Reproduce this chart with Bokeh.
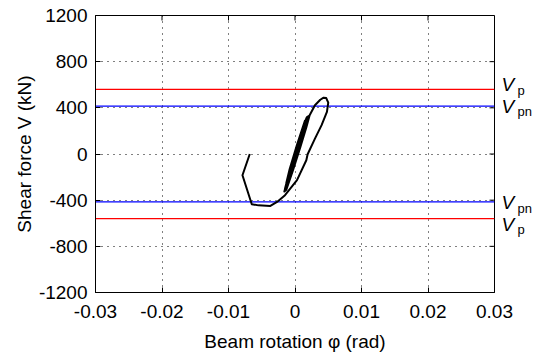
from bokeh.plotting import figure
from bokeh.models import FixedTicker, LinearAxis, Range1d
from bokeh.embed import file_html
from bokeh.resources import INLINE

# ---- data ----
rotation = [0.0, 0.0009, 0.0018,
            0.0015, 0.0003, -0.0008, -0.0013,
            -0.0010, 0.0001, 0.0011, 0.0020,
            0.0017, 0.0005, -0.0006, -0.0015,
            -0.0012, -0.0001, 0.0010, 0.0021,
            0.0018, 0.0006, -0.0005, -0.0016,
            -0.0013, -0.0003, 0.0008, 0.0017, 0.0022, 0.0030, 0.0038, 0.0043, 0.0047,
            0.0050, 0.0048, 0.0040, 0.0030, 0.0019, 0.0017, 0.0003, -0.0015, -0.0027,
            -0.0037, -0.0055, -0.0065, -0.0079, -0.0068]
shear = [0, 150, 300,
         290, 80, -130, -250,
         -240, -30, 160, 320,
         310, 100, -100, -300,
         -290, -90, 110, 330,
         320, 110, -90, -325,
         -310, -140, 60, 230, 335, 422, 470, 488, 485,
         445, 364, 250, 133, -2, -54, -227, -357, -415,
         -450, -445, -435, -184, 0]

Vp = 560
Vpn = 415

x_ticks = [-0.03, -0.02, -0.01, 0, 0.01, 0.02, 0.03]
x_tick_labels = ["-0.03", "-0.02", "-0.01", "0", "0.01", "0.02", "0.03"]
y_ticks = [-1200, -800, -400, 0, 400, 800, 1200]

FONT = "Liberation Sans"
XMIN, XMAX = -0.03, 0.03
YMIN, YMAX = -1200, 1200

p = figure(width=534, height=356, output_backend="svg", toolbar_location=None,
           x_range=Range1d(XMIN, XMAX), y_range=Range1d(YMIN, YMAX),
           min_border_left=95, min_border_right=39, min_border_top=15, min_border_bottom=64)
p.outline_line_color = "black"
p.outline_line_width = 1
p.background_fill_color = "white"
p.border_fill_color = "white"

for ax in (p.xaxis[0], p.yaxis[0]):
    ax.major_tick_in = 5
    ax.major_tick_out = 0
    ax.minor_tick_in = 0
    ax.minor_tick_out = 0
    ax.axis_line_color = "black"
    ax.major_label_text_font = FONT
    ax.major_label_text_font_size = "19px"
    ax.major_label_text_color = "black"
    ax.axis_label_text_font = FONT
    ax.axis_label_text_font_size = "19px"
    ax.axis_label_text_font_style = "normal"
    ax.axis_label_text_color = "black"

p.xaxis[0].ticker = FixedTicker(ticks=x_ticks)
p.xaxis[0].major_label_overrides = {t: l for t, l in zip(x_ticks, x_tick_labels)}
p.xaxis[0].major_label_standoff = 12
p.xaxis[0].axis_label = "Beam rotation φ (rad)"
p.xaxis[0].axis_label_standoff = 10
p.yaxis[0].ticker = FixedTicker(ticks=y_ticks)
p.yaxis[0].major_label_overrides = {t: str(t) for t in y_ticks}
p.yaxis[0].major_label_standoff = 8
p.yaxis[0].axis_label = "Shear force V (kN)"
p.yaxis[0].axis_label_standoff = 1

p.xgrid.ticker = FixedTicker(ticks=x_ticks)
p.ygrid.ticker = FixedTicker(ticks=y_ticks)
for g in (p.xgrid[0], p.ygrid[0]):
    g.grid_line_color = "black"
    g.grid_line_dash = "1 5"
    g.grid_line_width = 1
    g.grid_line_alpha = 1

# inward ticks on top and right edges (box style)
tick_dx = (XMAX - XMIN) * 5 / 400.0
tick_dy = (YMAX - YMIN) * 5 / 277.0
p.segment(x0=x_ticks, y0=[YMAX] * len(x_ticks), x1=x_ticks, y1=[YMAX - tick_dy] * len(x_ticks),
          line_color="black", line_width=1)
p.segment(x0=[XMAX] * len(y_ticks), y0=y_ticks, x1=[XMAX - tick_dx] * len(y_ticks), y1=y_ticks,
          line_color="black", line_width=1)

# reference lines
for v, c in ((Vp, "red"), (-Vp, "red"), (Vpn, "blue"), (-Vpn, "blue")):
    p.line([XMIN, XMAX], [v, v], line_color=c, line_width=1.2)

p.line(rotation, shear, line_color="black", line_width=2, line_join="round")

# right-hand labels as two label-only axes: italic "V" and subscripts
kn_per_px = (YMAX - YMIN) / 277.0
v_pos = [Vp + 4.8 * kn_per_px, Vpn, -Vpn - 1.0 * kn_per_px, -Vp - 5.5 * kn_per_px]
sub_pos = [y - 5.5 * kn_per_px for y in v_pos]
sub_txt = ["p", "pn", "pn", "p"]

vaxis = LinearAxis(ticker=FixedTicker(ticks=v_pos),
                   major_label_overrides={t: "V" for t in v_pos},
                   axis_line_color=None, major_tick_line_color=None, minor_tick_line_color=None,
                   major_tick_in=0, major_tick_out=0, minor_tick_in=0, minor_tick_out=0,
                   major_label_standoff=7, major_label_text_font=FONT,
                   major_label_text_font_style="italic", major_label_text_font_size="19px",
                   major_label_text_color="black")
saxis = LinearAxis(ticker=FixedTicker(ticks=sub_pos),
                   major_label_overrides={t: s for t, s in zip(sub_pos, sub_txt)},
                   axis_line_color=None, major_tick_line_color=None, minor_tick_line_color=None,
                   major_tick_in=0, major_tick_out=0, minor_tick_in=0, minor_tick_out=0,
                   major_label_standoff=0, major_label_text_font=FONT,
                   major_label_text_font_size="13px", major_label_text_color="black")
p.add_layout(vaxis, "right")
p.add_layout(saxis, "right")

open("out.html", "w").write(file_html(p, INLINE))
